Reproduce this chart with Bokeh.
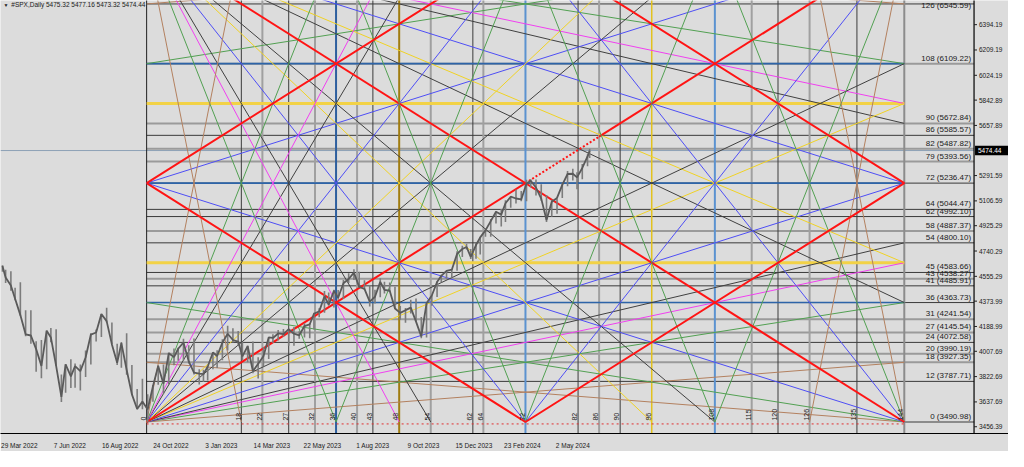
import numpy as np
from bokeh.plotting import figure
from bokeh.models import Range1d, FixedTicker, Label
from bokeh.embed import file_html
from bokeh.resources import INLINE

# ---------------- data ----------------
series_start = "2022-03-29"
nyse_holidays = ["2022-04-15", "2022-05-30", "2022-06-20", "2022-07-04", "2022-09-05",
                 "2022-11-24", "2022-12-26", "2023-01-02", "2023-01-16", "2023-02-20",
                 "2023-04-07", "2023-05-29", "2023-06-19", "2023-07-04", "2023-09-04",
                 "2023-11-23", "2023-12-25", "2024-01-01", "2024-01-15", "2024-02-19",
                 "2024-03-29", "2024-05-27", "2024-06-19"]

week_dates = [
    "2022-03-29", "2022-04-01", "2022-04-08", "2022-04-14", "2022-04-22", "2022-04-29",
    "2022-05-06", "2022-05-13", "2022-05-20", "2022-05-27", "2022-06-03", "2022-06-10",
    "2022-06-17", "2022-06-24", "2022-07-01", "2022-07-08", "2022-07-15", "2022-07-22",
    "2022-07-29", "2022-08-05", "2022-08-12", "2022-08-19", "2022-08-26", "2022-09-02",
    "2022-09-09", "2022-09-16", "2022-09-23", "2022-09-30", "2022-10-07", "2022-10-14",
    "2022-10-21", "2022-10-28", "2022-11-04", "2022-11-11", "2022-11-18", "2022-11-25",
    "2022-12-02", "2022-12-09", "2022-12-16", "2022-12-23", "2022-12-30", "2023-01-06",
    "2023-01-13", "2023-01-20", "2023-01-27", "2023-02-03", "2023-02-10", "2023-02-17",
    "2023-02-24", "2023-03-03", "2023-03-10", "2023-03-17", "2023-03-24", "2023-03-31",
    "2023-04-06", "2023-04-14", "2023-04-21", "2023-04-28", "2023-05-05", "2023-05-12",
    "2023-05-19", "2023-05-26", "2023-06-02", "2023-06-09", "2023-06-16", "2023-06-23",
    "2023-06-30", "2023-07-07", "2023-07-14", "2023-07-21", "2023-07-28", "2023-08-04",
    "2023-08-11", "2023-08-18", "2023-08-25", "2023-09-01", "2023-09-08", "2023-09-15",
    "2023-09-22", "2023-09-29", "2023-10-06", "2023-10-13", "2023-10-20", "2023-10-27",
    "2023-11-03", "2023-11-10", "2023-11-17", "2023-11-24", "2023-12-01", "2023-12-08",
    "2023-12-15", "2023-12-22", "2023-12-29", "2024-01-05", "2024-01-12", "2024-01-19",
    "2024-01-26", "2024-02-02", "2024-02-09", "2024-02-16", "2024-02-23", "2024-03-01",
    "2024-03-08", "2024-03-15", "2024-03-22", "2024-03-28", "2024-04-05", "2024-04-12",
    "2024-04-19", "2024-04-26", "2024-05-03", "2024-05-10", "2024-05-17", "2024-05-24",
    "2024-05-31", "2024-06-07", "2024-06-14", "2024-06-18"]
week_high = [
    4637, 4603, 4593, 4471, 4512, 4308, 4307, 4081, 4090, 4158, 4177, 4168,
    3838, 3913, 3950, 3918, 3911, 4013, 4140, 4167, 4280, 4325, 4218, 4062,
    4076, 4140, 3907, 3733, 3807, 3694, 3762, 3905, 3911, 3999, 4028, 4034,
    4100, 4052, 4101, 3876, 3872, 3895, 4003, 4016, 4095, 4195, 4176, 4156,
    4075, 4048, 4079, 3965, 4039, 4110, 4133, 4164, 4170, 4170, 4186, 4154,
    4213, 4212, 4290, 4322, 4448, 4437, 4458, 4456, 4528, 4578, 4607, 4588,
    4527, 4490, 4458, 4541, 4515, 4511, 4480, 4339, 4324, 4385, 4394, 4259,
    4366, 4418, 4520, 4567, 4595, 4609, 4738, 4778, 4793, 4755, 4798, 4842,
    4907, 4975, 5030, 5048, 5111, 5140, 5190, 5179, 5261, 5265, 5263, 5229,
    5150, 5114, 5123, 5239, 5325, 5342, 5316, 5376, 5447, 5487]
week_low = [
    4589, 4506, 4450, 4381, 4267, 4118, 4063, 3859, 3811, 3876, 4074, 3900,
    3637, 3705, 3739, 3742, 3722, 3819, 3911, 4079, 4112, 4218, 4057, 3907,
    3887, 3837, 3693, 3585, 3584, 3491, 3639, 3764, 3698, 3767, 3906, 3938,
    3943, 3919, 3838, 3765, 3784, 3794, 3877, 3885, 3943, 4013, 4071, 4048,
    3944, 3928, 3847, 3808, 3899, 3951, 4069, 4086, 4114, 4049, 4048, 4099,
    4108, 4103, 4166, 4257, 4289, 4341, 4328, 4385, 4389, 4507, 4528, 4474,
    4458, 4335, 4356, 4403, 4430, 4440, 4316, 4238, 4216, 4283, 4223, 4103,
    4108, 4341, 4405, 4511, 4537, 4546, 4597, 4696, 4751, 4682, 4683, 4714,
    4845, 4844, 4942, 4920, 4953, 5057, 5088, 5104, 5104, 5204, 5146, 5107,
    4953, 4990, 5012, 5128, 5213, 5256, 5191, 5265, 5360, 5420]
week_close = [
    4631, 4546, 4488, 4392, 4272, 4132, 4123, 4024, 3901, 4158, 4109, 3901,
    3675, 3912, 3825, 3899, 3863, 3962, 4130, 4145, 4280, 4228, 4058, 3924,
    4067, 3873, 3693, 3586, 3640, 3583, 3752, 3901, 3771, 3993, 3965, 4026,
    4072, 3934, 3852, 3845, 3840, 3895, 3999, 3973, 4071, 4136, 4090, 4079,
    3970, 4046, 3862, 3917, 3971, 4109, 4105, 4138, 4133, 4169, 4136, 4124,
    4192, 4205, 4282, 4299, 4410, 4348, 4450, 4399, 4505, 4536, 4582, 4478,
    4464, 4370, 4406, 4515, 4457, 4450, 4320, 4288, 4308, 4327, 4224, 4117,
    4358, 4415, 4514, 4559, 4595, 4604, 4719, 4755, 4770, 4697, 4784, 4840,
    4891, 4959, 5027, 5006, 5089, 5137, 5124, 5117, 5234, 5254, 5204, 5123,
    4967, 5100, 5128, 5223, 5303, 5305, 5278, 5347, 5431, 5474]

last_ohlc = [5475.32, 5477.16, 5473.32, 5474.44]
symbol_title = "#SPX,Daily"

date_tick_dates = ["2022-03-29", "2022-06-07", "2022-08-16", "2022-10-24", "2023-01-03",
                   "2023-03-14", "2023-05-22", "2023-08-01", "2023-10-09", "2023-12-15",
                   "2024-02-23", "2024-05-02"]
date_tick_labels = ["29 Mar 2022", "7 Jun 2022", "16 Aug 2022", "24 Oct 2022", "3 Jan 2023",
                    "14 Mar 2023", "22 May 2023", "1 Aug 2023", "9 Oct 2023", "15 Dec 2023",
                    "23 Feb 2024", "2 May 2024"]
price_ticks = [3456.39, 3637.69, 3822.69, 4007.69, 4188.99, 4373.99, 4555.29, 4740.29,
               4925.29, 5106.59, 5291.59, 5657.89, 5842.89, 6024.19, 6209.19, 6394.19]

level_units = [0, 12, 18, 20, 24, 27, 31, 36, 41, 43, 45, 54, 58, 62, 64, 72, 79, 82, 86, 90, 108, 126]
level_prices = [3490.98, 3787.71, 3927.35, 3990.19, 4072.58, 4145.54, 4241.54, 4363.73,
                4485.91, 4538.27, 4583.66, 4800.10, 4887.37, 4992.10, 5044.47, 5236.47,
                5393.56, 5487.82, 5585.57, 5672.84, 6109.22, 6545.59]
light_levels = [108, 90, 82, 79, 58, 43, 31, 27, 20, 18]

vline_units = [0, 18, 22, 27, 32, 36, 40, 43, 48, 54, 62, 64, 72, 82, 86, 90, 96, 108, 115, 120, 126, 135, 144]
light_vlines = [22, 32, 40, 54, 64, 86, 115, 126]

gann_origin_date = "2022-10-13"
gann_low = 3490.98
gann_price_per_unit = 24.2429
gann_bars_per_unit = 5
gann_size = 144
box_blue_units = [36, 72, 108]
box_yellow_units = [48, 96]

# fan from a corner: end points (time unit, price unit) measured from that corner
fan_end_t = [144, 144, 144, 144, 144, 144, 144, 144, 108, 96, 72, 54, 48, 36, 18]
fan_end_p = [18, 36, 48, 54, 72, 96, 108, 144, 144, 144, 144, 144, 144, 144, 144]
fan_kind = ["brown", "green", "magenta", "black", "blue", "yellow", "black", "red",
            "black", "yellow", "blue", "black", "magenta", "green", "brown"]
right_corner_kinds = ["brown", "green", "blue", "red"]
diamond_t = [0, 72, 144, 72, 0]
diamond_p = [72, 0, 72, 144, 72]
mid_fan_from = [(72, 0), (72, 0), (72, 144), (72, 144)]
mid_fan_to = [(36, 144), (108, 144), (36, 0), (108, 0)]
dashed_diag_units = [72, 86]   # part of the main 1x1 line drawn dotted

# ---------------- layout calibration (reference pixels) ----------------
REF_BAR0_X, REF_PX_PER_BAR = 2.0, 1.069
REF_PRICE0, REF_PRICE0_Y, REF_PRICE_PER_PX = 3456.39, 441.0, 7.062


def bar_at(rx):
    return (rx - REF_BAR0_X) / REF_PX_PER_BAR


def price_at(ry):
    return REF_PRICE0 + (REF_PRICE0_Y - ry) * REF_PRICE_PER_PX


BG = "#dcdcdc"
COL = {"brown": "#b3805f", "green": "#52a052", "magenta": "#f040f0", "black": "#404040",
       "blue": "#4e4ef5", "yellow": "#f0d224", "red": "#ff1414"}
FONT = "Liberation Sans"


def bar_index(dates):
    return np.busday_count(series_start, np.array(dates, dtype="datetime64[D]"),
                           holidays=nyse_holidays)


origin_bar = int(bar_index([gann_origin_date])[0])


def gx(t):
    return origin_bar + gann_bars_per_unit * np.asarray(t, dtype=float)


def gy(pu):
    return gann_low + gann_price_per_unit * np.asarray(pu, dtype=float)


X0, X1 = bar_at(0), bar_at(1024)
Y0, Y1 = price_at(448), price_at(0)
AX = bar_at(989)          # right price-scale border
PX = 1 / REF_PX_PER_BAR
PY = REF_PRICE_PER_PX

p = figure(width=1008, height=451, x_range=Range1d(X0, X1), y_range=Range1d(Y0, Y1),
           output_backend="svg", toolbar_location=None, y_axis_location=None,
           min_border_left=0, min_border_top=0, min_border_right=0, min_border_bottom=13,
           background_fill_color=BG, border_fill_color=BG)
p.outline_line_color = None
p.grid.visible = False

tick_bars = [int(b) + 16 for b in bar_index(date_tick_dates)]
p.xaxis.ticker = FixedTicker(ticks=tick_bars)
p.xaxis.major_label_overrides = {b: l for b, l in zip(tick_bars, date_tick_labels)}
p.xaxis.major_label_text_font_size = "6.5px"
p.xaxis.major_label_text_font = FONT
p.xaxis.major_label_text_color = "#202020"
p.xaxis.major_tick_line_color = None
p.xaxis.minor_tick_line_color = None
p.xaxis.major_label_standoff = 2
p.xaxis.axis_line_color = "#000000"

# current price line
p.segment(x0=[X0], x1=[AX], y0=[last_ohlc[3]], y1=[last_ohlc[3]], line_color="#8ea2b6", line_width=1)

# labelled price levels
for u, pr in zip(level_units, level_prices):
    light = u in light_levels
    xs = gx(gann_size) if u == 0 else gx(0)
    p.segment(x0=[xs], x1=[AX], y0=[pr], y1=[pr],
              line_color="#9a9a9a" if light else "#3a3a3a", line_width=2 if light else 1)

# vertical time lines
for u in vline_units:
    if u in box_blue_units:
        c, w = ("#2d5f9e" if u == 36 else "#5b92d0"), 2
    elif u == 48:
        c, w = "#a07c10", 2
    elif u == 96:
        c, w = "#e2c21e", 1.5
    elif u == 0:
        c, w = "#202020", 1
    elif u == 144:
        c, w = "#8c8c8c", 2
    elif u in light_vlines:
        c, w = "#a0a0a0", 2
    else:
        c, w = "#3c3c3c", 1
    p.segment(x0=[gx(u)], x1=[gx(u)], y0=[Y0 - 50], y1=[Y1 + 50], line_color=c, line_width=w)

# box lines (blue / yellow)
for u in box_blue_units:
    p.segment(x0=[gx(0)], x1=[gx(gann_size)], y0=[gy(u)], y1=[gy(u)], line_color="#2d64a8", line_width=1.6)
for u in box_yellow_units:
    p.segment(x0=[gx(0)], x1=[gx(gann_size)], y0=[gy(u)], y1=[gy(u)], line_color="#f2d246", line_width=3)

# bottom red dotted line at level 0
p.segment(x0=[gx(0)], x1=[gx(gann_size)], y0=[gy(0) - 2 * PY], y1=[gy(0) - 2 * PY],
          line_color="#e03030", line_width=1, line_dash="2 3")

# fans from the four corners
S = gann_size
for ft, fp, k in zip(fan_end_t, fan_end_p, fan_kind):
    w = 2 if k == "red" else 1
    if k == "red":
        # main diagonals: drawn separately below
        continue
    corners = [((0, 0), (ft, fp)), ((0, S), (ft, S - fp))]
    if k in right_corner_kinds:
        corners += [((S, 0), (S - ft, fp)), ((S, S), (S - ft, S - fp))]
    for (a, b), (c, d) in corners:
        p.segment(x0=[gx(a)], y0=[gy(b)], x1=[gx(c)], y1=[gy(d)], line_color=COL[k], line_width=w)

# main diagonals (red)
d0, d1 = dashed_diag_units
p.segment(x0=[gx(0), gx(d1)], y0=[gy(0), gy(d1)], x1=[gx(d0), gx(S)], y1=[gy(d0), gy(S)],
          line_color=COL["red"], line_width=2)
p.segment(x0=[gx(d0)], y0=[gy(d0)], x1=[gx(d1)], y1=[gy(d1)],
          line_color=COL["red"], line_width=2, line_dash="2 2")
p.segment(x0=[gx(0)], y0=[gy(S)], x1=[gx(S)], y1=[gy(0)], line_color=COL["red"], line_width=2)

# mid-point steep fans (green)
for (a, b), (c, d) in zip(mid_fan_from, mid_fan_to):
    p.segment(x0=[gx(a)], y0=[gy(b)], x1=[gx(c)], y1=[gy(d)], line_color=COL["green"], line_width=1)

# red diamond
p.line(gx(diamond_t), gy(diamond_p), line_color=COL["red"], line_width=2)

# price series (weekly ranges + closes)
wb = bar_index(week_dates)
p.segment(x0=wb, x1=wb, y0=week_low, y1=week_high, line_color="#7c7c7c", line_width=1.6)
p.line(wb, week_close, line_color="#5a5a5a", line_width=1.8)

# right-side level labels
p.text(x=[AX - 3 * PX] * len(level_units),
       y=[min(pr + 1.0 * PY, Y1 - 10 * PY) for pr in level_prices],
       text=[f"{u} ({pr:.2f})" for u, pr in zip(level_units, level_prices)],
       text_align="right", text_baseline="bottom", text_font_size="8px",
       text_color="#202020", text_font={"value": FONT})

# rotated vertical labels
p.text(x=[gx(u) - 0.8 * PX for u in vline_units], y=[gy(0) + 1.5 * PY] * len(vline_units),
       text=[str(u) for u in vline_units], angle=np.pi / 2,
       text_align="left", text_baseline="bottom", text_font_size="7px",
       text_color="#202020", text_font={"value": FONT})

# price scale (right)
p.segment(x0=[AX], x1=[AX], y0=[Y0 - 50], y1=[Y1 + 50], line_color="#000000", line_width=1.2)
p.segment(x0=[AX] * len(price_ticks), x1=[AX + 3 * PX] * len(price_ticks),
          y0=price_ticks, y1=price_ticks, line_color="#202020", line_width=1)
p.text(x=[AX + 5 * PX] * len(price_ticks), y=price_ticks,
       text=[f"{t:.2f}" for t in price_ticks], text_align="left", text_baseline="middle",
       text_font_size="6.5px", text_color="#202020", text_font={"value": FONT})
p.quad(left=[AX + 1 * PX], right=[X1 + 5], bottom=[last_ohlc[3] - 5 * PY], top=[last_ohlc[3] + 5 * PY],
       fill_color="#000000", line_color=None)
p.text(x=[AX + 4 * PX], y=[last_ohlc[3]], text=[f"{last_ohlc[3]:.2f}"], text_align="left",
       text_baseline="middle", text_font_size="6.5px", text_color="#ffffff", text_font={"value": FONT})

# title
p.add_layout(Label(x=bar_at(3), y=Y1 - 2 * PY, text="▼", text_font_size="5px",
                   text_baseline="top", text_color="#202020"))
p.add_layout(Label(x=bar_at(11), y=Y1 - 1 * PY,
                   text=f"{symbol_title}  " + " ".join(f"{v:.2f}" for v in last_ohlc),
                   text_font_size="6.5px", text_font=FONT, text_baseline="top",
                   text_color="#202020"))

open("out.html", "w").write(file_html(p, INLINE))
